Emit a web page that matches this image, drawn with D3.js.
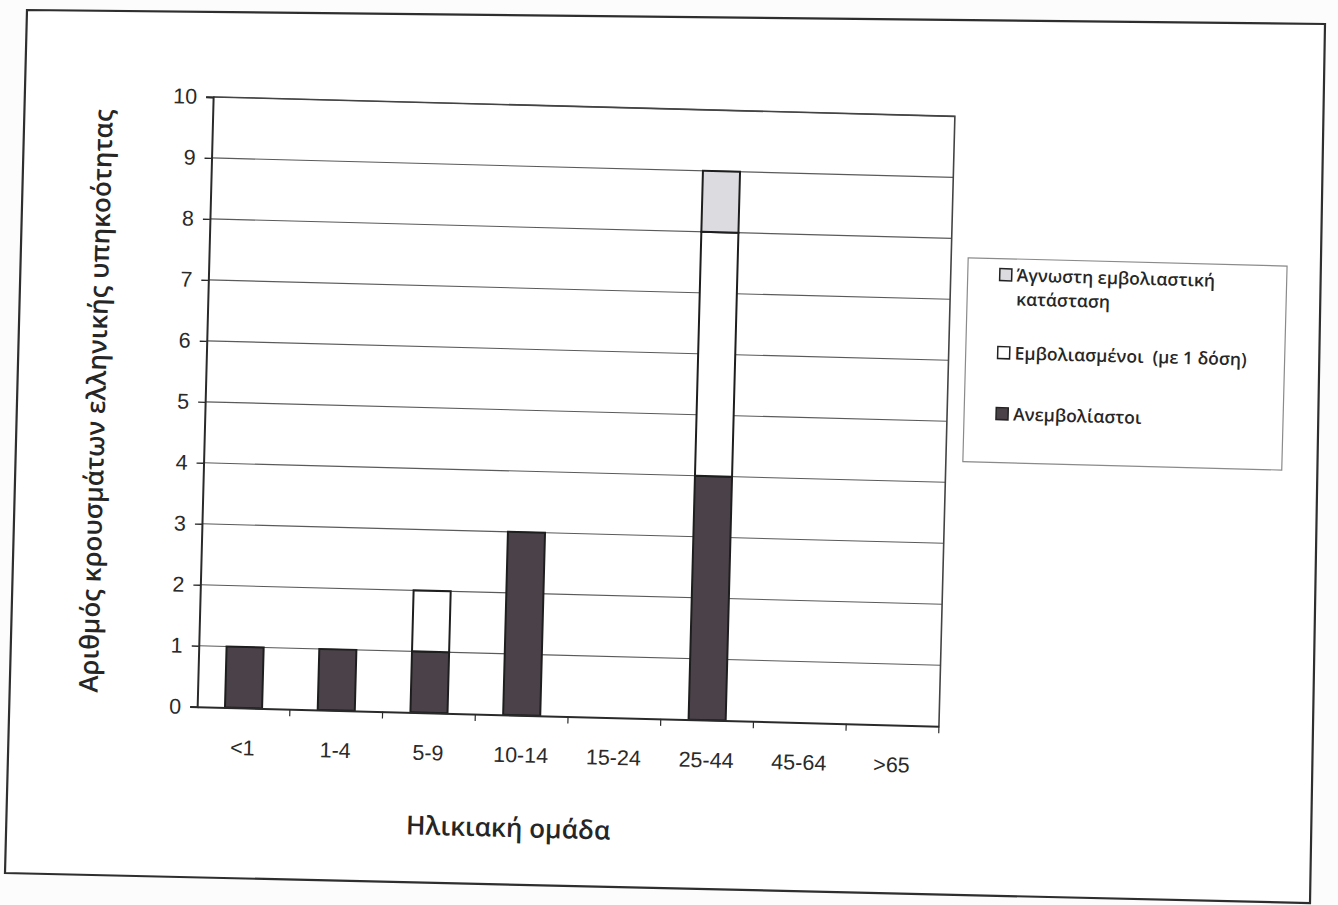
<!DOCTYPE html>
<html>
<head>
<meta charset="utf-8">
<script src="https://cdn.jsdelivr.net/npm/d3@7"></script>
<style>
  body { margin: 0; background: #fcfcfc; }
  svg { display: block; }
</style>
</head>
<body>
<div id="chart"></div>
<script>
/* CONSTANTS AND GLOBALS */
const width = 1338;
const height = 905;

// DATA ######################################################
const categories = ["<1", "1-4", "5-9", "10-14", "15-24", "25-44", "45-64", ">65"];
const unvaccinated = [1, 1, 1, 3, 0, 4, 0, 0];
const vaccinatedOneDose = [0, 0, 1, 0, 0, 4, 0, 0];
const unknownStatus = [0, 0, 0, 0, 0, 1, 0, 0];
const seriesKeys = ["unvacc", "vacc1", "unknown"];
const seriesLabels = {
  unknown: ["Άγνωστη εμβολιαστική", "κατάσταση"],
  vacc1: ["Εμβολιασμένοι  (με 1 δόση)"],
  unvacc: ["Ανεμβολίαστοι"]
};
const yTickValues = [0, 1, 2, 3, 4, 5, 6, 7, 8, 9, 10];
const yTitle = "Αριθμός κρουσμάτων ελληνικής υπηκοότητας";
const xTitle = "Ηλικιακή ομάδα";

// plot area (before the scan tilt)
const plot = { left: 204, right: 946, top: 109, bottom: 719 };
const tilt = 1.5;

const colors = d3.scaleOrdinal()
  .domain(seriesKeys)
  .range(["#4b4249", "#ffffff", "#dcdce0"]);

const table = categories.map((c, i) => ({
  cat: c,
  unvacc: unvaccinated[i],
  vacc1: vaccinatedOneDose[i],
  unknown: unknownStatus[i]
}));

const stacked = d3.stack().keys(seriesKeys)(table);

// SCALES ====================================================
const xScale = d3.scaleBand()
  .domain(categories)
  .range([plot.left, plot.right])
  .paddingInner(0.6)
  .paddingOuter(0.3);

const yScale = d3.scaleLinear()
  .domain([0, 10])
  .range([plot.bottom, plot.top]);

// SVG =======================================================
const svg = d3.select("#chart")
  .append("svg")
  .attr("width", width)
  .attr("height", height);

// outer chart frame, as it sits on the scanned page
svg.append("path")
  .attr("d", "M27,10 L1325,24 L1310,903 L5,873 Z")
  .attr("fill", "#ffffff")
  .attr("stroke", "#2e2e2e")
  .attr("stroke-width", 2.2);

const g = svg.append("g")
  .attr("transform", `rotate(${tilt}, 669, 452)`);

// gridlines
g.append("g")
  .selectAll("line")
  .data(yTickValues.filter(v => v > 0))
  .join("line")
    .attr("x1", plot.left)
    .attr("x2", plot.right)
    .attr("y1", d => yScale(d))
    .attr("y2", d => yScale(d))
    .attr("stroke", "#5a5a5a")
    .attr("stroke-width", 1.1);

// plot area border (top + right)
g.append("path")
  .attr("d", `M${plot.left},${plot.top} H${plot.right} V${plot.bottom}`)
  .attr("fill", "none")
  .attr("stroke", "#444")
  .attr("stroke-width", 1.6);

// bars
g.append("g")
  .selectAll("g")
  .data(stacked)
  .join("g")
    .attr("fill", d => colors(d.key))
  .selectAll("rect")
  .data(d => d.filter(s => s[1] - s[0] > 0))
  .join("rect")
    .attr("x", d => xScale(d.data.cat))
    .attr("width", xScale.bandwidth())
    .attr("y", d => yScale(d[1]))
    .attr("height", d => yScale(d[0]) - yScale(d[1]))
    .attr("stroke", "#1e1e1e")
    .attr("stroke-width", 2);

// AXES ======================================================
const yAxisGroup = g.append("g")
  .attr("transform", `translate(${plot.left},0)`)
  .call(d3.axisLeft(yScale).tickValues(yTickValues).tickSize(7).tickPadding(9));

yAxisGroup.select(".domain").attr("stroke", "#2a2a2a").attr("stroke-width", 2);
yAxisGroup.selectAll(".tick line").attr("stroke", "#2a2a2a").attr("stroke-width", 1.4);
yAxisGroup.selectAll("text")
  .style("font-family", "'Liberation Sans', Arial, sans-serif")
  .style("font-size", "21.5px")
  .attr("fill", "#2a2a2a");

const xAxisGroup = g.append("g")
  .attr("transform", `translate(0,${plot.bottom})`)
  .call(d3.axisBottom(xScale).tickSize(0).tickPadding(32));

xAxisGroup.select(".domain").attr("stroke", "#2a2a2a").attr("stroke-width", 2);
xAxisGroup.selectAll("text")
  .style("font-family", "'Liberation Sans', Arial, sans-serif")
  .style("font-size", "21.5px")
  .attr("fill", "#2a2a2a");

// category boundary ticks below the x axis
const boundaries = categories.map(c => xScale(c) - xScale.step() * 0.3).concat([plot.right]);
g.append("g")
  .selectAll("line")
  .data(boundaries.slice(1))
  .join("line")
    .attr("x1", d => d)
    .attr("x2", d => d)
    .attr("y1", plot.bottom)
    .attr("y2", plot.bottom + 7)
    .attr("stroke", "#2a2a2a")
    .attr("stroke-width", 1.2);

// AXIS TITLES ================================================
g.append("text")
  .attr("transform", "translate(104, 416) rotate(-90)")
  .attr("text-anchor", "middle")
  .style("font-family", "'Open Sans', sans-serif")
  .style("font-weight", 600)
  .style("font-size", "26px")
  .attr("fill", "#262626")
  .text(yTitle);

g.append("text")
  .attr("x", 518)
  .attr("y", 841)
  .attr("text-anchor", "middle")
  .style("font-family", "'Open Sans', sans-serif")
  .style("font-weight", 600)
  .style("font-size", "26px")
  .attr("fill", "#262626")
  .text(xTitle);

// LEGEND =====================================================
const legend = g.append("g");

legend.append("rect")
  .attr("x", 963)
  .attr("y", 250)
  .attr("width", 319)
  .attr("height", 204)
  .attr("fill", "#fff")
  .attr("stroke", "#8a8a8a")
  .attr("stroke-width", 1.2);

const legendOrder = ["unknown", "vacc1", "unvacc"];
const legendY = [266, 344, 405];

const items = legend.selectAll(".leg-item")
  .data(legendOrder)
  .join("g")
    .attr("class", "leg-item")
    .attr("transform", (d, i) => `translate(1001, ${legendY[i]})`);

items.append("rect")
  .attr("x", -6)
  .attr("y", -6)
  .attr("width", 12)
  .attr("height", 12)
  .attr("fill", d => colors(d))
  .attr("stroke", "#222")
  .attr("stroke-width", 1.5);

items.append("text")
  .attr("x", 11)
  .style("font-family", "'Open Sans', sans-serif")
  .style("font-weight", 600)
  .style("font-size", "17.5px")
  .style("white-space", "pre")
  .attr("fill", "#262626")
  .selectAll("tspan")
  .data(d => seriesLabels[d])
  .join("tspan")
    .attr("x", 11)
    .attr("y", (d, i) => 6.5 + i * 24)
    .text(d => d);
</script>
</body>
</html>
